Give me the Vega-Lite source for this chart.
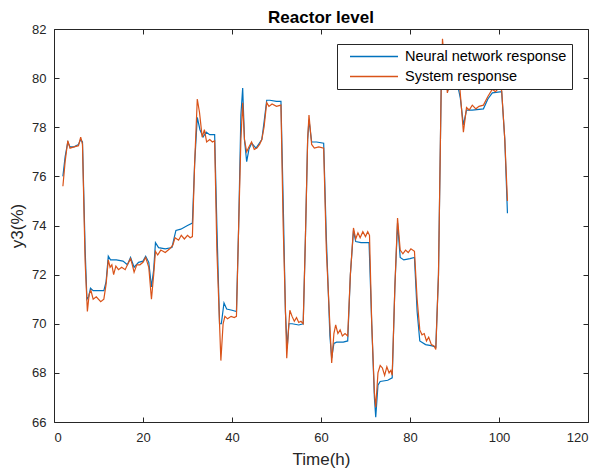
{
  "$schema": "https://vega.github.io/schema/vega-lite/v6.json",
  "width": 534,
  "height": 393,
  "autosize": {"type": "none"},
  "padding": {"left": 54, "top": 29, "right": 13, "bottom": 51},
  "background": "white",
  "config": {"view": {"stroke": null}, "font": "Liberation Sans"},
  "title": {"text": "Reactor level", "fontSize": 17, "fontWeight": "bold", "font": "Liberation Sans", "color": "black", "offset": -4, "anchor": "middle"},
  "datasets": {
    "nn": [
      {"t":2.0,"v":76.0},{"t":2.5,"v":76.8},{"t":3.1,"v":77.4},{"t":3.6,"v":77.2},{"t":4.5,"v":77.2},{"t":5.5,"v":77.3},{"t":6.0,"v":77.5},{"t":6.4,"v":77.4},{"t":7.0,"v":73.0},{"t":7.4,"v":71.0},{"t":7.8,"v":71.1},{"t":8.2,"v":71.45},{"t":8.8,"v":71.35},{"t":10.0,"v":71.35},{"t":11.2,"v":71.35},{"t":11.7,"v":71.7},{"t":12.2,"v":72.75},{"t":12.7,"v":72.6},{"t":14.0,"v":72.6},{"t":15.5,"v":72.55},{"t":16.5,"v":72.4},{"t":17.2,"v":72.7},{"t":18.0,"v":72.3},{"t":19.0,"v":72.5},{"t":20.0,"v":72.55},{"t":20.6,"v":72.75},{"t":21.3,"v":72.5},{"t":21.9,"v":71.5},{"t":22.4,"v":72.2},{"t":22.8,"v":73.3},{"t":23.5,"v":73.1},{"t":25.0,"v":73.05},{"t":26.5,"v":73.1},{"t":27.0,"v":73.5},{"t":27.4,"v":73.8},{"t":28.5,"v":73.85},{"t":30.0,"v":74.0},{"t":31.1,"v":74.1},{"t":31.6,"v":76.5},{"t":32.2,"v":78.4},{"t":32.8,"v":77.9},{"t":33.5,"v":77.6},{"t":34.2,"v":77.8},{"t":35.0,"v":77.7},{"t":36.1,"v":77.7},{"t":36.6,"v":74.0},{"t":37.2,"v":70.0},{"t":37.6,"v":70.0},{"t":38.2,"v":70.85},{"t":38.8,"v":70.6},{"t":40.0,"v":70.55},{"t":41.0,"v":70.5},{"t":41.5,"v":74.0},{"t":42.0,"v":78.5},{"t":42.4,"v":79.6},{"t":42.8,"v":77.5},{"t":43.3,"v":76.6},{"t":43.8,"v":77.1},{"t":44.4,"v":77.35},{"t":45.4,"v":77.15},{"t":46.7,"v":77.5},{"t":47.2,"v":78.2},{"t":47.8,"v":79.1},{"t":48.5,"v":79.1},{"t":50.0,"v":79.05},{"t":51.0,"v":79.05},{"t":51.5,"v":75.0},{"t":52.0,"v":70.5},{"t":52.4,"v":69.0},{"t":52.8,"v":70.0},{"t":53.5,"v":70.0},{"t":55.0,"v":69.95},{"t":56.0,"v":70.0},{"t":56.5,"v":73.5},{"t":57.0,"v":77.5},{"t":57.3,"v":78.3},{"t":57.9,"v":77.4},{"t":59.0,"v":77.4},{"t":60.6,"v":77.35},{"t":61.2,"v":73.5},{"t":62.0,"v":69.5},{"t":62.4,"v":68.6},{"t":62.9,"v":69.2},{"t":63.5,"v":69.25},{"t":65.0,"v":69.25},{"t":66.0,"v":69.3},{"t":66.6,"v":72.0},{"t":67.3,"v":73.8},{"t":67.8,"v":73.35},{"t":69.0,"v":73.3},{"t":70.8,"v":73.3},{"t":71.4,"v":70.0},{"t":72.0,"v":67.0},{"t":72.3,"v":66.2},{"t":72.8,"v":67.5},{"t":73.3,"v":67.65},{"t":75.0,"v":67.7},{"t":76.0,"v":67.8},{"t":76.6,"v":71.5},{"t":77.2,"v":74.1},{"t":77.8,"v":72.7},{"t":78.6,"v":72.6},{"t":80.0,"v":72.65},{"t":81.0,"v":72.7},{"t":81.6,"v":70.5},{"t":82.2,"v":69.3},{"t":83.5,"v":69.15},{"t":85.0,"v":69.1},{"t":85.8,"v":69.05},{"t":86.4,"v":72.0},{"t":87.0,"v":79.5},{"t":87.3,"v":81.2},{"t":87.8,"v":80.0},{"t":88.5,"v":79.5},{"t":89.3,"v":79.9},{"t":90.5,"v":79.9},{"t":91.3,"v":79.2},{"t":92.0,"v":78.1},{"t":92.7,"v":78.7},{"t":94.0,"v":78.7},{"t":96.5,"v":78.75},{"t":97.5,"v":79.15},{"t":98.5,"v":79.4},{"t":100.6,"v":79.45},{"t":101.3,"v":77.5},{"t":101.9,"v":74.5}
    ],
    "sys": [
      {"t":2.0,"v":75.6},{"t":2.5,"v":76.6},{"t":3.1,"v":77.45},{"t":3.6,"v":77.15},{"t":4.5,"v":77.2},{"t":5.5,"v":77.25},{"t":6.0,"v":77.6},{"t":6.4,"v":77.3},{"t":7.0,"v":72.5},{"t":7.5,"v":70.5},{"t":7.9,"v":71.2},{"t":8.3,"v":71.35},{"t":8.8,"v":71.0},{"t":9.5,"v":71.1},{"t":10.5,"v":70.9},{"t":11.2,"v":71.0},{"t":11.7,"v":71.6},{"t":12.2,"v":72.6},{"t":12.6,"v":72.3},{"t":13.0,"v":72.4},{"t":13.4,"v":72.0},{"t":13.9,"v":72.35},{"t":14.5,"v":72.2},{"t":15.2,"v":72.3},{"t":16.0,"v":72.2},{"t":16.5,"v":72.4},{"t":17.2,"v":72.65},{"t":17.6,"v":72.4},{"t":18.0,"v":72.1},{"t":18.6,"v":72.4},{"t":19.3,"v":72.4},{"t":20.0,"v":72.5},{"t":20.6,"v":72.7},{"t":21.3,"v":72.3},{"t":21.9,"v":71.0},{"t":22.4,"v":72.0},{"t":22.8,"v":72.95},{"t":23.3,"v":72.8},{"t":24.0,"v":73.0},{"t":25.0,"v":72.9},{"t":26.0,"v":73.05},{"t":26.7,"v":73.2},{"t":27.2,"v":73.5},{"t":28.0,"v":73.4},{"t":28.6,"v":73.6},{"t":29.3,"v":73.45},{"t":30.0,"v":73.6},{"t":30.6,"v":73.5},{"t":31.1,"v":73.55},{"t":31.6,"v":76.5},{"t":32.2,"v":79.15},{"t":32.7,"v":78.6},{"t":33.3,"v":77.6},{"t":33.8,"v":77.9},{"t":34.3,"v":77.4},{"t":35.0,"v":77.5},{"t":35.6,"v":77.4},{"t":36.1,"v":77.45},{"t":36.6,"v":73.0},{"t":37.5,"v":68.5},{"t":38.0,"v":70.0},{"t":38.4,"v":70.3},{"t":39.0,"v":70.2},{"t":39.8,"v":70.3},{"t":40.5,"v":70.25},{"t":41.0,"v":70.3},{"t":41.5,"v":74.0},{"t":42.0,"v":77.5},{"t":42.4,"v":79.0},{"t":42.8,"v":77.5},{"t":43.3,"v":77.0},{"t":43.8,"v":77.2},{"t":44.4,"v":77.4},{"t":45.0,"v":77.1},{"t":45.6,"v":77.15},{"t":46.2,"v":77.3},{"t":46.7,"v":77.5},{"t":47.2,"v":78.0},{"t":47.8,"v":79.0},{"t":48.3,"v":78.85},{"t":49.0,"v":78.95},{"t":50.0,"v":78.85},{"t":51.0,"v":78.9},{"t":51.5,"v":74.0},{"t":52.3,"v":68.6},{"t":52.7,"v":69.8},{"t":53.0,"v":70.55},{"t":53.5,"v":70.3},{"t":54.0,"v":70.1},{"t":54.5,"v":70.25},{"t":55.0,"v":70.05},{"t":55.5,"v":70.1},{"t":56.0,"v":70.0},{"t":56.5,"v":73.5},{"t":57.0,"v":77.5},{"t":57.3,"v":78.5},{"t":57.9,"v":77.3},{"t":58.5,"v":77.15},{"t":59.5,"v":77.2},{"t":60.6,"v":77.15},{"t":61.2,"v":73.0},{"t":62.4,"v":68.4},{"t":62.9,"v":69.6},{"t":63.3,"v":69.95},{"t":63.8,"v":69.6},{"t":64.3,"v":69.75},{"t":64.8,"v":69.5},{"t":65.4,"v":69.6},{"t":66.0,"v":69.5},{"t":66.6,"v":72.0},{"t":67.3,"v":73.9},{"t":67.8,"v":73.45},{"t":68.3,"v":73.7},{"t":68.8,"v":73.5},{"t":69.4,"v":73.75},{"t":70.0,"v":73.55},{"t":70.5,"v":73.75},{"t":70.9,"v":73.6},{"t":71.4,"v":70.0},{"t":72.0,"v":67.2},{"t":72.3,"v":66.6},{"t":72.8,"v":68.0},{"t":73.3,"v":68.3},{"t":73.8,"v":68.2},{"t":74.3,"v":67.9},{"t":74.8,"v":68.25},{"t":75.3,"v":68.0},{"t":75.7,"v":68.1},{"t":76.0,"v":67.9},{"t":76.6,"v":71.5},{"t":77.2,"v":74.3},{"t":77.8,"v":73.0},{"t":78.4,"v":72.85},{"t":79.0,"v":73.0},{"t":79.6,"v":72.9},{"t":80.2,"v":73.05},{"t":81.0,"v":72.95},{"t":81.6,"v":71.0},{"t":82.2,"v":69.75},{"t":82.7,"v":69.55},{"t":83.2,"v":69.6},{"t":83.7,"v":69.3},{"t":84.2,"v":69.45},{"t":84.8,"v":69.15},{"t":85.4,"v":69.1},{"t":85.8,"v":68.95},{"t":86.4,"v":72.0},{"t":87.0,"v":79.5},{"t":87.3,"v":81.6},{"t":87.8,"v":80.5},{"t":88.4,"v":79.4},{"t":89.0,"v":79.9},{"t":90.0,"v":80.0},{"t":91.2,"v":79.6},{"t":92.0,"v":77.8},{"t":92.7,"v":78.8},{"t":93.3,"v":78.7},{"t":94.0,"v":78.9},{"t":94.8,"v":78.75},{"t":95.5,"v":78.85},{"t":96.5,"v":78.9},{"t":97.5,"v":79.25},{"t":98.5,"v":79.55},{"t":99.2,"v":79.45},{"t":100.0,"v":79.6},{"t":100.6,"v":79.5},{"t":101.3,"v":77.5},{"t":101.9,"v":75.0}
    ]
  },
  "layer": [
    {
      "data": {"name": "nn"},
      "transform": [{"calculate": "'Neural network response'", "as": "s"}],
      "mark": {"type": "line", "strokeWidth": 1.2, "clip": true},
      "encoding": {
        "x": {"field": "t", "type": "quantitative", "scale": {"domain": [0, 120], "nice": false, "zero": false},
          "axis": {"orient": "bottom", "values": [0, 20, 40, 60, 80, 100, 120], "grid": false, "tickSize": -5, "labelPadding": 14, "labelFontSize": 13, "labelColor": "#262626", "domainColor": "#262626", "tickColor": "#262626", "title": "Time(h)", "titleFontSize": 17, "titleFontWeight": "normal", "titleColor": "#262626", "titlePadding": 7}},
        "y": {"field": "v", "type": "quantitative", "scale": {"domain": [66, 82], "nice": false, "zero": false},
          "axis": {"orient": "left", "values": [66, 68, 70, 72, 74, 76, 78, 80, 82], "grid": false, "tickSize": -5, "labelPadding": 13, "labelFontSize": 13, "labelColor": "#262626", "domainColor": "#262626", "tickColor": "#262626", "title": "y3(%)", "titleFontSize": 17, "titleFontWeight": "normal", "titleColor": "#262626", "titlePadding": 5}},
        "color": {"field": "s", "type": "nominal",
          "scale": {"domain": ["Neural network response", "System response"], "range": ["#0072BD", "#D95319"]},
          "legend": {"orient": "none", "legendX": 283, "legendY": 15, "title": null, "strokeColor": "#262626", "fillColor": "white", "padding": 5, "symbolType": "stroke", "symbolSize": 2304, "symbolStrokeWidth": 1.3, "symbolOffset": 7, "labelOffset": 6, "labelFontSize": 14.5, "labelLimit": 400, "labelColor": "black", "rowPadding": 4, "clipHeight": 15}}
      }
    },
    {
      "data": {"name": "sys"},
      "transform": [{"calculate": "'System response'", "as": "s"}],
      "mark": {"type": "line", "strokeWidth": 1.2, "clip": true},
      "encoding": {
        "x": {"field": "t", "type": "quantitative", "scale": {"domain": [0, 120], "nice": false, "zero": false},
          "axis": {"orient": "top", "values": [0, 20, 40, 60, 80, 100, 120], "grid": false, "labels": false, "title": null, "tickSize": -5, "domainColor": "#262626", "tickColor": "#262626"}},
        "y": {"field": "v", "type": "quantitative", "scale": {"domain": [66, 82], "nice": false, "zero": false},
          "axis": {"orient": "right", "values": [66, 68, 70, 72, 74, 76, 78, 80, 82], "grid": false, "labels": false, "title": null, "tickSize": -5, "domainColor": "#262626", "tickColor": "#262626"}},
        "color": {"field": "s", "type": "nominal",
          "scale": {"domain": ["Neural network response", "System response"], "range": ["#0072BD", "#D95319"]}}
      }
    }
  ],
  "resolve": {"axis": {"x": "independent", "y": "independent"}}
}
